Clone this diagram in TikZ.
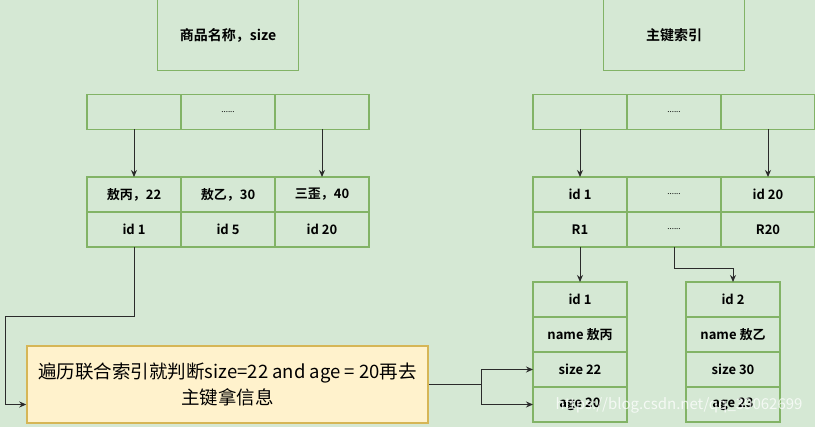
\documentclass[tikz,border=0pt]{standalone}
\usepackage{fontspec}
\setmainfont{Noto Sans CJK SC}[BoldFont={Noto Sans CJK SC Bold}]
\usetikzlibrary{arrows.meta,positioning}

\definecolor{bgreen}{HTML}{D5E8D4}
\definecolor{gline}{HTML}{82B366}
\definecolor{nfill}{HTML}{FFF2CC}
\definecolor{nline}{HTML}{D6B656}
\definecolor{aline}{HTML}{2B2B2B}

\begin{document}
\begin{tikzpicture}[
        x=1pt, y=-1pt,
        font=\bfseries\fontsize{13}{15}\selectfont,
        rootbox/.style={rectangle, draw=gline, line width=1.5pt,
          minimum width=141pt, minimum height=71pt, outer sep=0pt,
          font=\bfseries\fontsize{14}{16}\selectfont},
        cell/.style={rectangle, draw=gline, line width=1.5pt,
          minimum width=94pt, minimum height=35pt, inner sep=0pt, outer sep=0pt},
        dots/.style={font=\fontsize{8}{9}\selectfont},
        note/.style={rectangle, draw=nline, fill=nfill, line width=1.5pt,
          minimum width=401pt, minimum height=77pt, align=center,
          font=\fontsize{18.5}{26}\selectfont},
        arr/.style={draw=aline, line width=1pt, -{Stealth[length=7pt,width=6pt]}}
      ]
        \useasboundingbox[fill=bgreen] (0,0) rectangle (815,427);
        % joint index on the left
        \node[rootbox] (lroot) at (228,35) {商品名称，size};
        \node[cell] (la) at (134,112) {};
        \node[cell, dots, right=0pt of la] (lb) {......};
        \node[cell, right=0pt of lb] (lc) {};
        \node[cell] (l1) at (134,194.5) {敖丙，22};
        \node[cell, right=0pt of l1] (l2) {敖乙，30};
        \node[cell, right=0pt of l2] (l3) {三歪，40};
        \node[cell, below=0pt of l1] (k1) {id 1};
        \node[cell, below=0pt of l2] (k2) {id 5};
        \node[cell, below=0pt of l3] (k3) {id 20};
        % primary key index on the right
        \node[rootbox] (rroot) at (674,35) {主键索引};
        \node[cell] (ra) at (580,112) {};
        \node[cell, dots, right=0pt of ra] (rb) {......};
        \node[cell, right=0pt of rb] (rc) {};
        \node[cell] (r1) at (580,194.5) {id 1};
        \node[cell, dots, right=0pt of r1] (r2) {......};
        \node[cell, right=0pt of r2] (r3) {id 20};
        \node[cell, below=0pt of r1] (s1) {R1};
        \node[cell, dots, below=0pt of r2] (s2) {......};
        \node[cell, below=0pt of r3] (s3) {R20};
        % rows
        \node[cell] (d1) at (580,299.5) {id 1};
        \node[cell, below=0pt of d1] (d2) {name 敖丙};
        \node[cell, below=0pt of d2] (d3) {size 22};
        \node[cell, below=0pt of d3] (d4) {age 20};
        \node[cell] (e1) at (733,299.5) {id 2};
        \node[cell, below=0pt of e1] (e2) {name 敖乙};
        \node[cell, below=0pt of e2] (e3) {size 30};
        \node[cell, below=0pt of e3] (e4) {age 23};
        % scan note
        \node[note] (scan) at (227.5,384.5) {遍历联合索引就判断size=22 and age = 20再去\\主键拿信息};
        \coordinate (turn) at (5,317);
        \coordinate (fork) at (481,384.5);

        \draw[arr] (la.south) -- (l1.north);
        \draw[arr] (lc.south) -- (l3.north);
        \draw[arr] (ra.south) -- (r1.north);
        \draw[arr] (rc.south) -- (r3.north);
        \draw[arr] (s1.south) -- (d1.north);
        \draw[arr] (s2.south) -- ++(0,22) -| (e1.north);
        \draw[arr] (k1.south) |- (turn) |- ([yshift=-20pt]scan.west);
        \draw[draw=aline, line width=1pt] (scan.east) -- (fork);
        \draw[arr] (fork) |- (d3.west);
        \draw[arr] (fork) |- (d4.west);

        \node[anchor=east, text=white, opacity=0.75, font=\fontsize{15}{18}\selectfont]
          (mark) at (806,405) {https://blog.csdn.net/qq\_39062699};
      \end{tikzpicture}
\end{document}
